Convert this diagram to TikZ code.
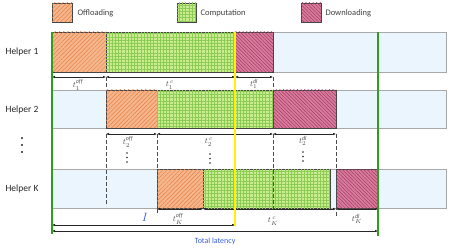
\documentclass[tikz,border=0pt]{standalone}
\usepackage{fontspec}
\setmainfont{Carlito}
\usetikzlibrary{patterns.meta,arrows.meta}
\definecolor{bandfill}{HTML}{EAF5FD}
\definecolor{bandline}{HTML}{A9A9A9}
\definecolor{offbg}{HTML}{F6B68C}
\definecolor{offln}{HTML}{E58048}
\definecolor{compbg}{HTML}{C9EC8E}
\definecolor{compln}{HTML}{8CCB55}
\definecolor{dlbg}{HTML}{D87C9C}
\definecolor{dlln}{HTML}{A53A62}
\definecolor{bardraw}{HTML}{454545}
\definecolor{greenline}{HTML}{2E9E1E}
\definecolor{lblue}{HTML}{3A5FE0}
\definecolor{lblgray}{HTML}{505050}
\begin{document}
\begin{tikzpicture}[x=1pt,y=-1pt,
  band/.style={fill=bandfill,draw=bandline,line width=0.7pt},
  offbar/.style={fill=offbg,postaction={pattern={Lines[angle=45,distance=3pt,line width=0.45pt]},pattern color=offln},draw=bardraw,line width=0.5pt},
  compbar/.style={fill=compbg,postaction={pattern={Hatch[angle=0,distance=3.2pt,line width=0.3pt]},pattern color=compln},draw=bardraw,line width=0.5pt},
  dlbar/.style={fill=dlbg,postaction={pattern={Lines[angle=-45,distance=2.5pt,line width=0.5pt]},pattern color=dlln},draw=bardraw,line width=0.5pt},
  dim/.style={{Latex[length=3pt,width=2.6pt]}-{Latex[length=3pt,width=2.6pt]},line width=0.6pt,black!85},
  guide/.style={dashed,dash pattern=on 4pt off 2pt,line width=0.6pt,black!70},
  helper/.style={font=\fontsize{9.5}{11}\selectfont,black!85},
  legtext/.style={font=\fontsize{8.5}{10}\selectfont,black!75,anchor=west},
  tlabel/.style={font=\fontsize{8.5}{9}\selectfont,text=lblgray,inner sep=0pt},
  bluetext/.style={text=lblue}
]
\useasboundingbox (0,0) rectangle (449,248);

% legend
\path[offbar] (52,3) rectangle (72,22);
\node[legtext] (lgoff) at (74,13) {Offloading};
\path[compbar] (177,3) rectangle (196,22);
\node[legtext] (lgcomp) at (197,13) {Computation};
\path[dlbar] (301,3) rectangle (321,22);
\node[legtext] (lgdl) at (322,13) {Downloading};

% helper names
\node[helper] (h1) at (22,52) {Helper 1};
\node[helper] (h2) at (22,110) {Helper 2};
\node[helper] (hk) at (22,189) {Helper K};
\foreach \yy in {138,145,152} \fill[black!85] (22,\yy) circle (1.1);

% bands
\path[band] (52,32) rectangle (446,72);
\path[band] (52,90) rectangle (446,128);
\path[band] (52,169) rectangle (446,208);

% row 1
\path[offbar] (52,32) rectangle (106,72);
\path[compbar] (106,32) rectangle (235,72);
\path[dlbar] (235,32) rectangle (273,72);
% row 2
\path[offbar] (106,90) rectangle (157,128);
\path[compbar] (157,90) rectangle (273,128);
\path[dlbar] (273,90) rectangle (336,128);
% row K
\path[offbar] (157,169) rectangle (203,208);
\path[compbar] (203,169) rectangle (330,208);
\path[dlbar] (336,169) rectangle (378,208);

% coordinates
\coordinate (p10) at (52,77);
\coordinate (p11) at (106,77);
\coordinate (p12) at (235,77);
\coordinate (p13) at (273,77);
\coordinate (p20) at (106,134);
\coordinate (p21) at (157,134);
\coordinate (p22) at (273,134);
\coordinate (p23) at (336,134);
\coordinate (pK0) at (157,209);
\coordinate (pK1) at (203,209);
\coordinate (pK2) at (336,209);
\coordinate (pK3) at (378,209);
\coordinate (i0) at (52,225);
\coordinate (i1) at (235,225);
\coordinate (L0) at (52,231);
\coordinate (L1) at (378,231);
\coordinate (g1t) at (52,32);
\coordinate (g1b) at (52,234);
\coordinate (g2t) at (378,32);
\coordinate (g2b) at (378,236);
\coordinate (yt) at (235,32);
\coordinate (yb) at (235,226);
\coordinate (d11) at (106,89);
\coordinate (d13) at (273,89);
\coordinate (d20) at (106,206);
\coordinate (d21) at (157,169);
\coordinate (d22) at (273,209);
\coordinate (d23) at (336,216);
\coordinate (dK0) at (157,215);

% guides
\draw[guide] (p11) -- (d11);
\draw[guide] (p13) -- (d13);
\draw[guide] (p20) -- (d20);
\draw[guide] (p21) -- (d21);
\draw[guide] (p22) -- (d22);
\draw[guide] (p23) -- (d23);
\draw[guide] (pK0) -- (dK0);

% dimension arrows
\draw[dim] (p10) -- (p11);
\draw[dim] (p11) -- (p12);
\draw[dim] (p12) -- (p13);
\draw[dim] (p20) -- (p21);
\draw[dim] (p21) -- (p22);
\draw[dim] (p22) -- (p23);
\draw[dim] (pK0) -- (pK1);
\draw[dim] (pK1) -- (pK2);
\draw[dim] (pK2) -- (pK3);
\draw[dim] (i0) -- (i1);
\draw[dim] (L0) -- (L1);

% vertical lines
\draw[greenline,line width=1.2pt] (g1t) -- (g1b);
\draw[greenline,line width=1.2pt] (g2t) -- (g2b);
\draw[yellow,line width=1.1pt] (yt) -- (yb);

% labels
\node[tlabel] (t1off) at (78,85) {$t_1^{\mathit{off}}$};
\node[tlabel] (t1c) at (170,85) {$t_1^{\,c}$};
\node[tlabel] (t1dl) at (254,84) {$t_1^{\mathit{dl}}$};
\node[tlabel] (t2off) at (128,142) {$t_2^{\mathit{off}}$};
\node[tlabel] (t2c) at (209,142) {$t_2^{\,c}$};
\node[tlabel] (t2dl) at (303,141) {$t_2^{\mathit{dl}}$};
\node[tlabel] (tKoff) at (178,219) {$t_K^{\mathit{off}}$};
\node[tlabel] (tKc) at (273,221) {$t_K^{\,c}$};
\node[tlabel] (tKdl) at (357,219) {$t_K^{\mathit{dl}}$};
\foreach \xx/\yy in {127/153,210/154,303/152}{
  \fill[black!85] (\xx,\yy) circle (0.9);
  \fill[black!85] (\xx,\yy+4.5) circle (0.9);
  \fill[black!85] (\xx,\yy+9) circle (0.9);
}
\node[bluetext,font=\fontsize{13}{14}\selectfont] (ilab) at (145,217) {$I$};
\node[bluetext,font=\fontsize{8}{9}\selectfont] (tot) at (215,241) {Total latency};
\end{tikzpicture}
\end{document}
